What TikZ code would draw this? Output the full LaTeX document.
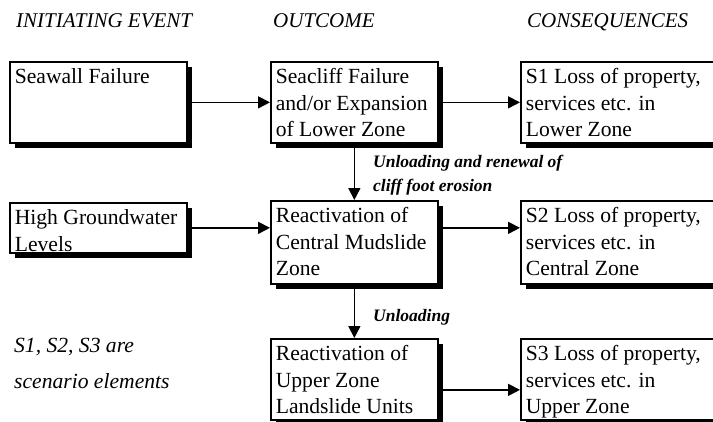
\documentclass[tikz,border=0pt]{standalone}
\usepackage{fontspec}
\setmainfont{Liberation Serif}
\usetikzlibrary{arrows.meta,shadows}
\newcommand{\boxtxt}[3]{\parbox[c][#2pt][t]{#1pt}{\raggedright\leftskip=5pt\baselineskip=26.5pt\rule{0pt}{22pt}#3\par}}
\begin{document}
\begin{tikzpicture}[x=1pt,y=-1pt,
  boxnode/.style={draw=black, line width=1.7pt, fill=white, inner sep=0pt, anchor=north west,
    drop shadow={shadow xshift=5pt, shadow yshift=-5pt, opacity=1, fill=black},
    font=\fontsize{21.6}{26.5}\selectfont},
  arr/.style={line width=1.6pt, -{Triangle[length=12pt,width=12pt]}},
  head/.style={anchor=base west, inner sep=0pt, font=\fontsize{21}{25}\selectfont\itshape},
  lab/.style={anchor=base west, inner sep=0pt, align=left, font=\fontsize{17.5}{24}\selectfont\bfseries\itshape},
  note/.style={anchor=base west, inner sep=0pt, align=left, font=\fontsize{21.6}{36}\selectfont\itshape}]
\useasboundingbox (0,0) rectangle (713,421);

% headers
\node[head] (h1) at (16,27) {INITIATING EVENT};
\node[head] (h2) at (273,27) {OUTCOME};
\node[head] (h3) at (527,27) {CONSEQUENCES};

% boxes
\node[boxnode] (ia) at (9,61)   {\boxtxt{177}{81}{Seawall Failure}};
\node[boxnode] (oa) at (270,61) {\boxtxt{167}{81}{Seacliff Failure\\and/or Expansion\\of Lower Zone}};
\node[boxnode] (ca) at (520,61) {\boxtxt{205}{81}{S1 Loss of property,\\services etc. in\\Lower Zone}};

\node[boxnode] (ib) at (9,202)   {\boxtxt{177}{50}{High Groundwater\\Levels}};
\node[boxnode] (ob) at (270,200) {\boxtxt{167}{83}{Reactivation of\\Central Mudslide\\Zone}};
\node[boxnode] (cb) at (520,200) {\boxtxt{205}{83}{S2 Loss of property,\\services etc. in\\Central Zone}};

\node[boxnode] (oc) at (270,338) {\boxtxt{167}{81}{Reactivation of\\Upper Zone\\Landslide Units}};
\node[boxnode] (cc) at (520,338) {\boxtxt{205}{81}{S3 Loss of property,\\services etc. in\\Upper Zone}};

% labels
\node[lab] (l1) at (373,191) {Unloading and renewal of\\cliff foot erosion};
\node[lab] (l2) at (373,321) {Unloading};
\node[note] (n1) at (14,388) {S1, S2, S3 are\\scenario elements};

% arrows
\draw[arr] (ia.east) -- (oa.west);
\draw[arr] (oa.east) -- (ca.west);
\draw[arr] (ib.east) -- (ib.east -| ob.west);
\draw[arr] (ob.east |- ib.east) -- (cb.west |- ib.east);
\draw[arr] (oa.south) -- (ob.north);
\draw[arr] (ob.south) -- (oc.north);
\draw[arr] ([yshift=-10.5pt]oc.east) -- ([yshift=-10.5pt]oc.east -| cc.west);
\end{tikzpicture}
\end{document}
